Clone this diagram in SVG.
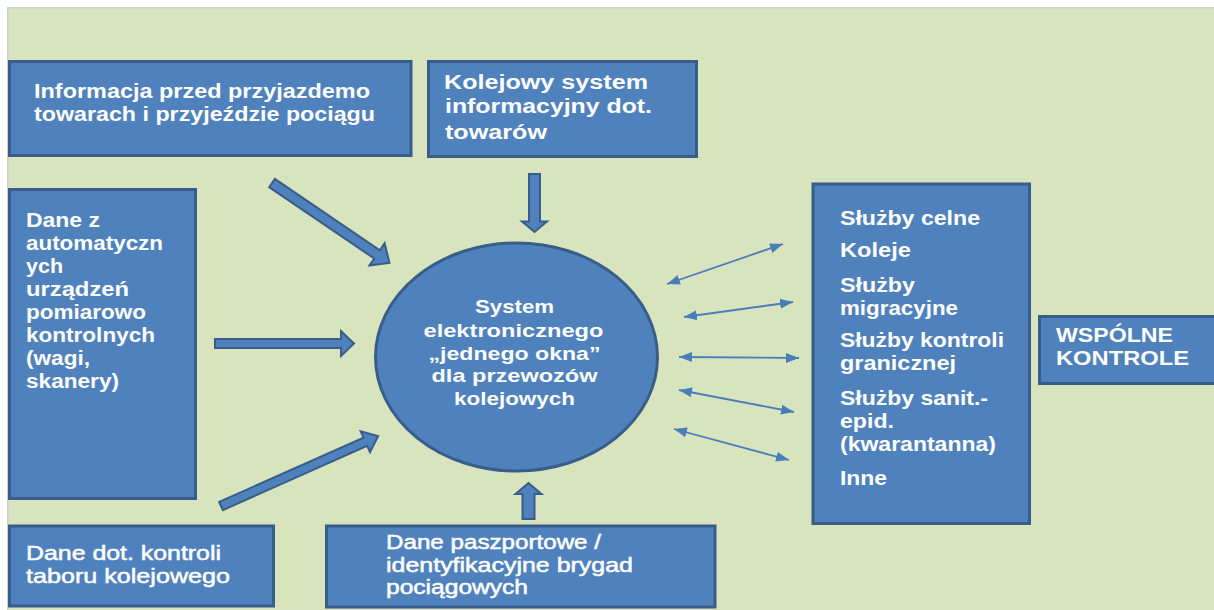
<svg xmlns="http://www.w3.org/2000/svg" width="1214" height="610" viewBox="0 0 1214 610">
<defs>
<style>
.box{fill:#4F81BD;stroke:#385D8A;stroke-width:3}
.blk{fill:#4F81BD;stroke:#385D8A;stroke-width:2;stroke-linejoin:miter}
.t{font-family:"Liberation Sans",Arial,sans-serif;font-size:20px;font-weight:bold;fill:#FFFFFF}
.tn{font-family:"Liberation Sans",Arial,sans-serif;font-size:20px;font-weight:normal;fill:#FFFFFF;stroke:#FFFFFF;stroke-width:0.5}
.tc{font-family:"Liberation Sans",Arial,sans-serif;font-size:19px;font-weight:bold;fill:#FFFFFF;text-anchor:middle}
.thin{stroke:#4A7EBB;stroke-width:1.8;fill:none;marker-start:url(#ah);marker-end:url(#ah)}
</style>
<marker id="ah" markerUnits="userSpaceOnUse" markerWidth="14" markerHeight="11" refX="13" refY="5" orient="auto-start-reverse" viewBox="0 0 14 10">
<path d="M0,0 L13,5 L0,10 Z" fill="#4A7EBB"/>
</marker>
</defs>
<rect x="0" y="0" width="1214" height="610" fill="#FFFFFF"/>
<rect x="7" y="7" width="1207" height="603" fill="#CFCFCF"/>
<rect x="8.5" y="8.5" width="1206" height="602" fill="#D7E4BD"/>

<g id="connectors">
<path class="blk" transform="translate(272,183) rotate(34.2)" d="M0,-5 L127,-5 L127,-13.5 L142,0 L127,13.5 L127,5 L0,5 Z"/>
<path class="blk" transform="translate(534.5,174) rotate(90)" d="M0,-5.5 L47.5,-5.5 L47.5,-12.5 L58,0 L47.5,12.5 L47.5,5.5 L0,5.5 Z"/>
<path class="blk" transform="translate(215,343.5)" d="M0,-4.5 L126,-4.5 L126,-12.5 L139,0 L126,12.5 L126,4.5 L0,4.5 Z"/>
<path class="blk" transform="translate(221,506) rotate(-24)" d="M0,-4.5 L158,-4.5 L158,-11.5 L172,0 L158,11.5 L158,4.5 L0,4.5 Z"/>
<path class="blk" transform="translate(528.5,519) rotate(-90)" d="M0,-6 L25,-6 L25,-13 L36,0 L25,13 L25,6 L0,6 Z"/>
<line class="thin" x1="667" y1="284" x2="783" y2="244"/>
<line class="thin" x1="684" y1="317" x2="793" y2="302"/>
<line class="thin" x1="679" y1="357" x2="799" y2="358"/>
<line class="thin" x1="679" y1="390" x2="794" y2="412"/>
<line class="thin" x1="674" y1="429" x2="789" y2="460"/>
</g>

<g id="node-info">
<rect class="box" x="9.5" y="61.5" width="401.5" height="94"/>
<text class="t" x="34" y="98" textLength="336" lengthAdjust="spacingAndGlyphs">Informacja przed przyjazdemo</text>
<text class="t" x="34" y="121" textLength="341" lengthAdjust="spacingAndGlyphs">towarach i przyjeździe pociągu</text>
</g>

<g id="node-kolejowy">
<rect class="box" x="428.5" y="61.5" width="268" height="95"/>
<text class="t" x="444" y="89" textLength="204" lengthAdjust="spacingAndGlyphs">Kolejowy system</text>
<text class="t" x="445" y="113" textLength="207" lengthAdjust="spacingAndGlyphs">informacyjny dot.</text>
<text class="t" x="445" y="138.5" textLength="102" lengthAdjust="spacingAndGlyphs">towarów</text>
</g>

<g id="node-dane-auto">
<rect class="box" x="9.5" y="189.5" width="186" height="309"/>
<text class="t" x="26" y="227" textLength="74" lengthAdjust="spacingAndGlyphs">Dane z</text>
<text class="t" x="26" y="250" textLength="137" lengthAdjust="spacingAndGlyphs">automatyczn</text>
<text class="t" x="26" y="273" textLength="37" lengthAdjust="spacingAndGlyphs">ych</text>
<text class="t" x="26" y="296" textLength="103" lengthAdjust="spacingAndGlyphs">urządzeń</text>
<text class="t" x="26" y="319" textLength="120" lengthAdjust="spacingAndGlyphs">pomiarowo</text>
<text class="t" x="26" y="342" textLength="129" lengthAdjust="spacingAndGlyphs">kontrolnych</text>
<text class="t" x="26" y="365" textLength="64" lengthAdjust="spacingAndGlyphs">(wagi,</text>
<text class="t" x="26" y="388" textLength="93" lengthAdjust="spacingAndGlyphs">skanery)</text>
</g>

<g id="node-system">
<ellipse cx="516.5" cy="357" rx="141" ry="114" fill="#4F81BD" stroke="#385D8A" stroke-width="3"/>
<text class="tc" x="514.5" y="313" textLength="79" lengthAdjust="spacingAndGlyphs">System</text>
<text class="tc" x="513.5" y="336.5" textLength="180" lengthAdjust="spacingAndGlyphs">elektronicznego</text>
<text class="tc" x="514.5" y="359.5" textLength="172" lengthAdjust="spacingAndGlyphs">„jednego okna”</text>
<text class="tc" x="514.5" y="382" textLength="166" lengthAdjust="spacingAndGlyphs">dla przewozów</text>
<text class="tc" x="514.5" y="404.5" textLength="121" lengthAdjust="spacingAndGlyphs">kolejowych</text>
</g>

<g id="node-sluzby">
<rect class="box" x="813" y="184" width="216.5" height="339.5"/>
<text class="t" x="840" y="225" textLength="140" lengthAdjust="spacingAndGlyphs">Służby celne</text>
<text class="t" x="840" y="257" textLength="71" lengthAdjust="spacingAndGlyphs">Koleje</text>
<text class="t" x="840" y="292" textLength="75" lengthAdjust="spacingAndGlyphs">Służby</text>
<text class="t" x="840" y="315" textLength="118" lengthAdjust="spacingAndGlyphs">migracyjne</text>
<text class="t" x="840" y="347" textLength="164" lengthAdjust="spacingAndGlyphs">Służby kontroli</text>
<text class="t" x="840" y="370" textLength="116" lengthAdjust="spacingAndGlyphs">granicznej</text>
<text class="t" x="840" y="405" textLength="148" lengthAdjust="spacingAndGlyphs">Służby sanit.-</text>
<text class="t" x="840" y="428" textLength="54" lengthAdjust="spacingAndGlyphs">epid.</text>
<text class="t" x="840" y="451" textLength="156" lengthAdjust="spacingAndGlyphs">(kwarantanna)</text>
<text class="t" x="840" y="485" textLength="47" lengthAdjust="spacingAndGlyphs">Inne</text>
</g>

<g id="node-wspolne">
<rect class="box" x="1039.5" y="316.5" width="200" height="67"/>
<text class="t" x="1056" y="342" textLength="117" lengthAdjust="spacingAndGlyphs">WSPÓLNE</text>
<text class="t" x="1056" y="365" textLength="133" lengthAdjust="spacingAndGlyphs">KONTROLE</text>
</g>

<g id="node-tabor">
<rect class="box" x="9.5" y="526" width="264" height="80"/>
<text class="tn" x="26" y="560" textLength="195" lengthAdjust="spacingAndGlyphs">Dane dot. kontroli</text>
<text class="tn" x="26" y="583" textLength="204" lengthAdjust="spacingAndGlyphs">taboru kolejowego</text>
</g>

<g id="node-paszport">
<rect class="box" x="326.5" y="526" width="388.5" height="81"/>
<text class="tn" x="386" y="548.5" textLength="215" lengthAdjust="spacingAndGlyphs">Dane paszportowe /</text>
<text class="tn" x="386" y="571.5" textLength="247" lengthAdjust="spacingAndGlyphs">identyfikacyjne brygad</text>
<text class="tn" x="386" y="593.5" textLength="142" lengthAdjust="spacingAndGlyphs">pociągowych</text>
</g>
</svg>
